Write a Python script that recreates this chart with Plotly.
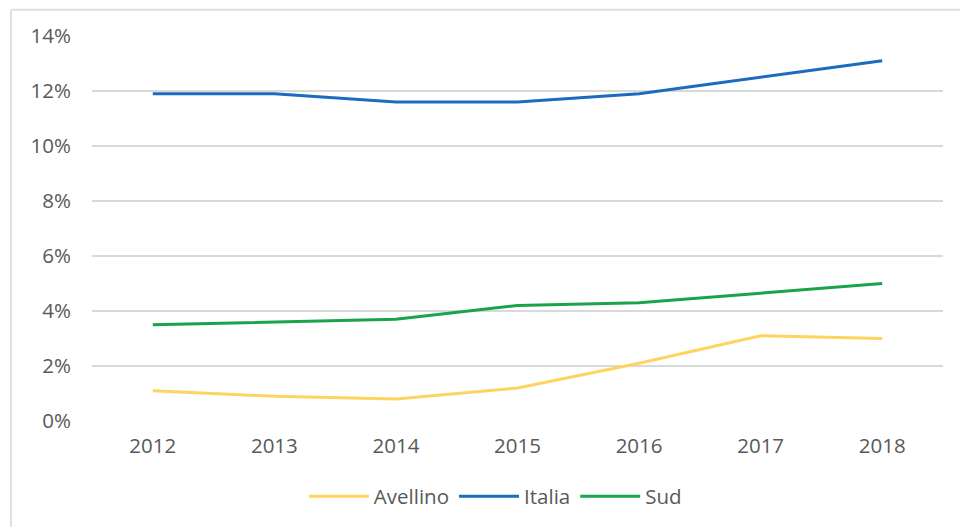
import plotly.graph_objects as go

years = ["2012", "2013", "2014", "2015", "2016", "2017", "2018"]
avellino = [0.011, 0.009, 0.008, 0.012, 0.021, 0.031, 0.030]
italia = [0.119, 0.119, 0.116, 0.116, 0.119, 0.125, 0.131]
sud = [0.035, 0.036, 0.037, 0.042, 0.043, 0.0465, 0.050]

series = [
    ("Avellino", avellino, "#FFD45E"),
    ("Italia", italia, "#1C6BBE"),
    ("Sud", sud, "#1BA34B"),
]

fig = go.Figure()
for name, vals, col in series:
    fig.add_trace(go.Scatter(x=years, y=vals, name=name, mode="lines",
                             line=dict(color=col, width=3)))

font = dict(family="Open Sans, Liberation Sans, sans-serif", size=20.5, color="#595959")

fig.update_layout(
    width=960, height=527,
    margin=dict(l=92, r=17, t=36, b=106, autoexpand=False),
    paper_bgcolor="white", plot_bgcolor="white",
    font=font,
    showlegend=True,
    legend=dict(orientation="h", x=0.474, xanchor="center", y=-0.196, yanchor="middle",
                font=font, itemwidth=60, tracegroupgap=0),
    xaxis=dict(type="category", range=[-0.5, 6.5], showgrid=False, zeroline=False, showline=False,
               ticks="", ticklabelstandoff=10, tickfont=font),
    yaxis=dict(range=[0, 0.14], dtick=0.02, tickformat=".0%", showgrid=True,
               gridcolor="#D9D9D9", gridwidth=1.5, zeroline=False, showline=False,
               ticks="", ticklabelstandoff=20, tickfont=font),
    shapes=[
        dict(type="line", xref="paper", yref="paper", x0=-0.0952, x1=1.05, y0=1.068, y1=1.068,
             line=dict(color="#E0E0E0", width=2)),
        dict(type="line", xref="paper", yref="paper", x0=-0.0952, x1=-0.0952, y0=1.068, y1=-0.3,
             line=dict(color="#E0E0E0", width=2)),
    ],
)

fig.write_html("out.html")
